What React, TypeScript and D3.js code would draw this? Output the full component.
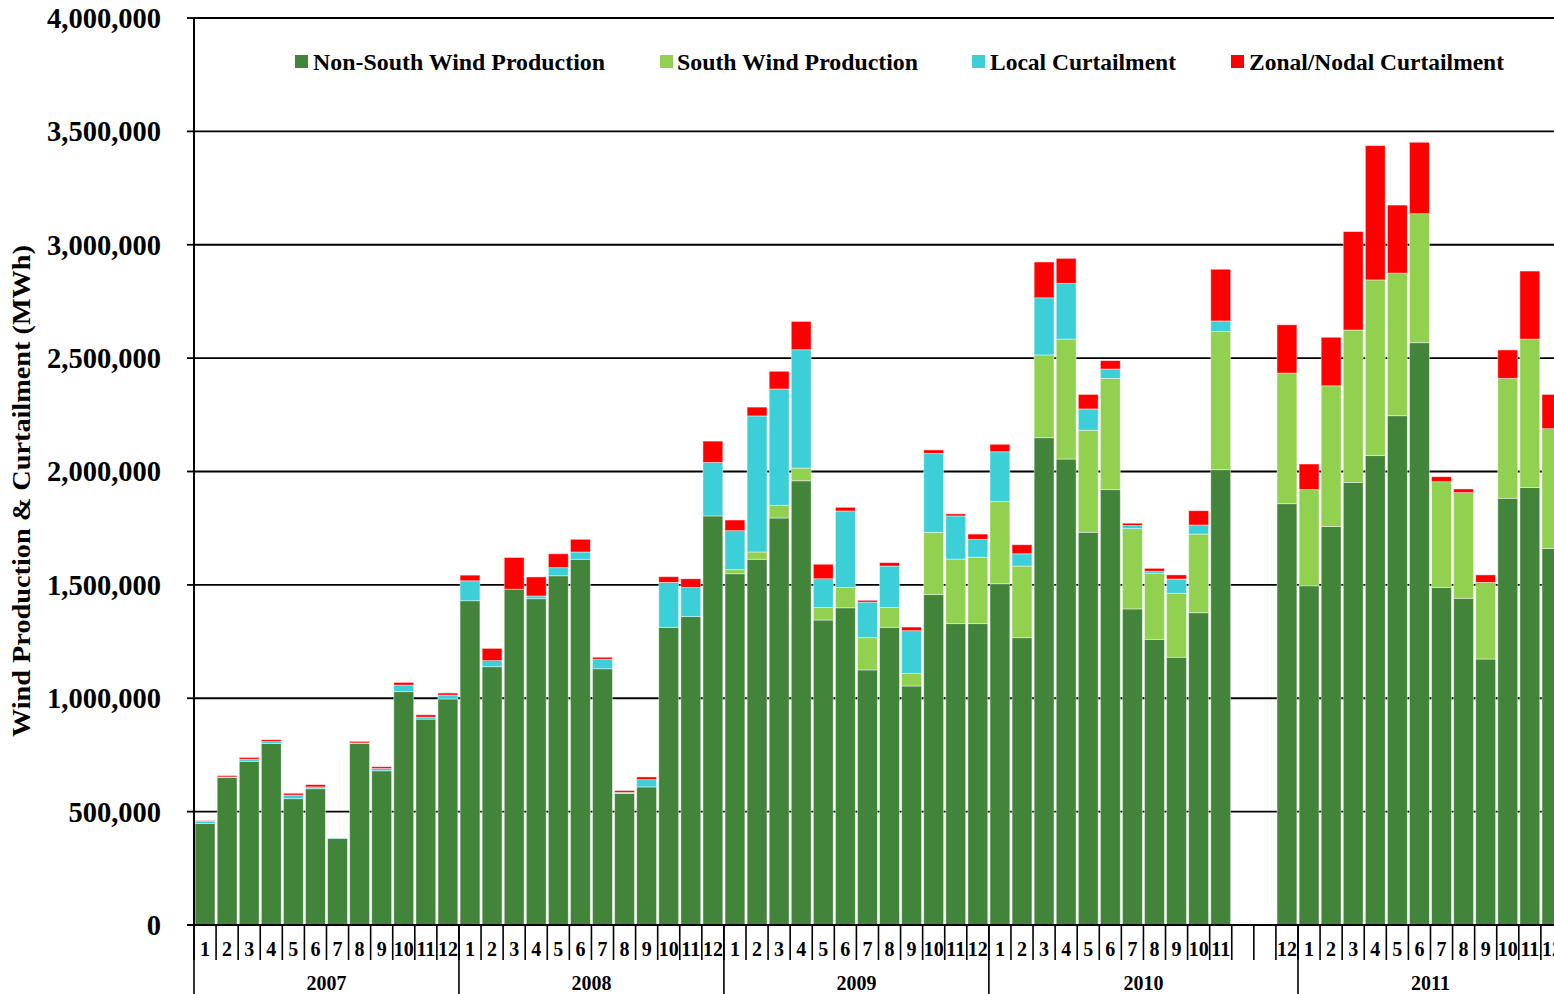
import React from "react";
import * as d3 from "d3";

const years = ["2007", "2008", "2009", "2010", "2011"];
const monthLabels: string[][] = [
  ["1","2","3","4","5","6","7","8","9","10","11","12"],
  ["1","2","3","4","5","6","7","8","9","10","11","12"],
  ["1","2","3","4","5","6","7","8","9","10","11","12"],
  ["1","2","3","4","5","6","7","8","9","10","11","","","12"],
  ["1","2","3","4","5","6","7","8","9","10","11","12"],
];

const nonSouth: (number | null)[] = [
  448000, 650000, 722000, 800000, 557000, 601000, 382000, 800000, 680000, 1029000, 908000, 997000,
  1430000, 1139000, 1481000, 1439000, 1540000, 1613000, 1130000, 580000, 609000, 1313000, 1360000, 1804000,
  1549000, 1613000, 1795000, 1959000, 1345000, 1399000, 1125000, 1313000, 1054000, 1457000, 1329000, 1329000,
  1505000, 1267000, 2149000, 2055000, 1732000, 1920000, 1394000, 1260000, 1181000, 1377000, 2008000, null, null, 1858000,
  1496000, 1757000, 1952000, 2070000, 2246000, 2568000, 1489000, 1441000, 1173000, 1882000, 1929000, 1660000,
];
const south: (number | null)[] = [
  0,0,0,0,0,0,0,0,0,0,0,0,
  0,0,0,0,0,0,0,0,0,0,0,0,
  18000, 32000, 56000, 56000, 56000, 90000, 142000, 88000, 56000, 275000, 285000, 293000,
  362000, 316000, 365000, 529000, 450000, 491000, 354000, 291000, 282000, 347000, 609000, null, null, 576000,
  425000, 621000, 672000, 775000, 629000, 569000, 466000, 466000, 338000, 529000, 655000, 529000,
];
const local: (number | null)[] = [
  10000, 3000, 9000, 9000, 16000, 8000, 2000, 3000, 10000, 29000, 9000, 17000,
  88000, 27000, 0, 12000, 36000, 32000, 42000, 5000, 32000, 198000, 129000, 236000,
  172000, 600000, 513000, 522000, 126000, 337000, 157000, 182000, 188000, 348000, 190000, 79000,
  220000, 54000, 252000, 246000, 94000, 41000, 14000, 9000, 63000, 40000, 47000, null, null, 0,
  0,0,0,0,0,0,0,0,0,0,0,0,
];
const zonal: (number | null)[] = [
  2000, 6000, 8000, 8000, 8000, 10000, 0, 7000, 8000, 12000, 10000, 9000,
  25000, 54000, 140000, 84000, 61000, 56000, 9000, 8000, 12000, 25000, 38000, 94000,
  47000, 39000, 78000, 125000, 64000, 16000, 8000, 15000, 16000, 15000, 9000, 23000,
  33000, 40000, 158000, 110000, 64000, 37000, 10000, 13000, 18000, 63000, 228000, null, null, 213000,
  112000, 214000, 434000, 592000, 300000, 315000, 22000, 16000, 33000, 125000, 300000, 151000,
];

const seriesNames = ["Non-South Wind Production", "South Wind Production", "Local Curtailment", "Zonal/Nodal Curtailment"];
const seriesColors = ["#43843B", "#92D050", "#3DCFD8", "#FF0000"];
const yTicks = [0, 500000, 1000000, 1500000, 2000000, 2500000, 3000000, 3500000, 4000000];

const W = 1554, H = 994;
const X0 = 194, SLOT = 22.08;
const Y0 = 925, YTOP = 18;

export default function App() {
  const cats: { key: string; label: string; year: string; blank: boolean }[] = [];
  years.forEach((y, yi) => monthLabels[yi].forEach((m, mi) => cats.push({ key: `${y}-${mi}`, label: m, year: y, blank: m === "" })));

  const rows = cats.map((c, i) => ({
    key: c.key,
    blank: c.blank,
    ns: nonSouth[i] ?? 0,
    s: south[i] ?? 0,
    l: local[i] ?? 0,
    z: zonal[i] ?? 0,
  }));
  const keys = ["ns", "s", "l", "z"];
  const stacked = d3.stack<any>().keys(keys)(rows);

  const x = d3.scaleBand<string>().domain(cats.map((c) => c.key)).range([X0, X0 + SLOT * cats.length]).paddingInner(0.1).paddingOuter(0.05);
  const y = d3.scaleLinear().domain([0, 4000000]).range([Y0, YTOP]);
  const fmt = d3.format(",");
  const step = x.step();
  const slotStart = (k: string) => X0 + cats.findIndex((c) => c.key === k) * step;

  const yearBounds: { year: string; start: number; end: number }[] = [];
  let idx = 0;
  years.forEach((yr, yi) => {
    const n = monthLabels[yi].length;
    yearBounds.push({ year: yr, start: X0 + idx * step, end: X0 + (idx + n) * step });
    idx += n;
  });

  const legendPos = [
    { mx: 295, tx: 313, tl: 292 },
    { mx: 660, tx: 677, tl: 241 },
    { mx: 972, tx: 990, tl: 186 },
    { mx: 1231, tx: 1249, tl: 255 },
  ];

  const font = "'Liberation Serif', 'Times New Roman', serif";

  return (
    <svg width={W} height={H} style={{ position: "absolute", left: 0, top: 0, background: "#fff" }} fontFamily={font}>
      <defs>
        <clipPath id="clip">
          <rect x={0} y={0} width={W} height={H} />
        </clipPath>
      </defs>
      {yTicks.filter((t) => t > 0).map((t) => (
        <line key={t} x1={X0} x2={W} y1={y(t)} y2={y(t)} stroke="#000" strokeWidth={1.8} />
      ))}
      <g clipPath="url(#clip)">
        {stacked.map((ser, si) => (
          <g key={ser.key} fill={seriesColors[si]}>
            {ser.map((d, i) => {
              if (rows[i].blank) return null;
              const h = y(d[0]) - y(d[1]);
              if (h <= 0) return null;
              return (
                <rect key={i} x={x(rows[i].key)} width={x.bandwidth()} y={y(d[1])} height={h}
                  stroke="rgba(255,255,255,0.55)" strokeWidth={0.8} />
              );
            })}
          </g>
        ))}
      </g>
      <line x1={X0} x2={X0} y1={YTOP} y2={Y0} stroke="#000" strokeWidth={2} />
      {yTicks.map((t) => (
        <g key={t}>
          <line x1={X0 - 7} x2={X0} y1={y(t)} y2={y(t)} stroke="#000" strokeWidth={1.8} />
          <text x={161} y={y(t)} dy="0.35em" textAnchor="end" fontSize={28.5} fontWeight="bold">{fmt(t)}</text>
        </g>
      ))}
      <line x1={X0 - 7} x2={W} y1={Y0} y2={Y0} stroke="#000" strokeWidth={2} />
      {cats.map((c) => {
        const sx = slotStart(c.key);
        return (
          <g key={c.key}>
            <line x1={sx} x2={sx} y1={Y0} y2={960} stroke="#000" strokeWidth={1.6} />
            <text x={sx + step / 2} y={956} textAnchor="middle" fontSize={20} fontWeight="bold">{c.label}</text>
          </g>
        );
      })}
      {yearBounds.map((b) => (
        <g key={b.year}>
          <line x1={b.start} x2={b.start} y1={Y0} y2={H} stroke="#000" strokeWidth={1.6} />
          <text x={(b.start + b.end) / 2} y={990} textAnchor="middle" fontSize={20} fontWeight="bold">{b.year}</text>
        </g>
      ))}
      <text transform={`translate(30,491) rotate(-90)`} textAnchor="middle" fontSize={26} fontWeight="bold"
        textLength={492} lengthAdjust="spacingAndGlyphs">Wind Production &amp; Curtailment (MWh)</text>
      {seriesNames.map((n, i) => (
        <g key={n}>
          <rect x={legendPos[i].mx} y={55} width={13} height={13} fill={seriesColors[i]} />
          <text x={legendPos[i].tx} y={70} fontSize={23} fontWeight="bold" textLength={legendPos[i].tl} lengthAdjust="spacingAndGlyphs">{n}</text>
        </g>
      ))}
    </svg>
  );
}
